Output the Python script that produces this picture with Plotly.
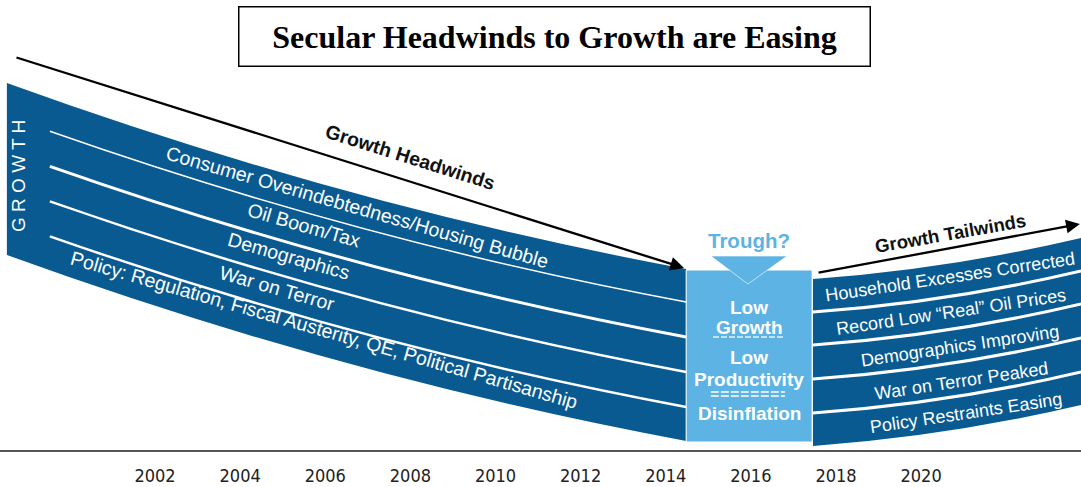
import plotly.graph_objects as go

# ---------------- data ----------------
years = [2002, 2004, 2006, 2008, 2010, 2012, 2014, 2016, 2018, 2020]

headwind_layers = [
    "Consumer Overindebtedness/Housing Bubble",
    "Oil Boom/Tax",
    "Demographics",
    "War on Terror",
    "Policy: Regulation, Fiscal Austerity, QE, Political Partisanship",
]
tailwind_layers = [
    "Household Excesses Corrected",
    "Record Low \u201cReal\u201d Oil Prices",
    "Demographics Improving",
    "War on Terror Peaked",
    "Policy Restraints Easing",
]
trough_lines = ["Low", "Growth", "Low", "Productivity", "Disinflation"]

# growth level of the top edge of each band at its start / middle / end (year)
headwind_x = [1998.52, 2006.50, 2014.48]
headwind_top = [367, 259, 181]
headwind_depth = [0, 33, 68, 103, 138, 172]

tailwind_x = [2017.46, 2020.61, 2023.76]
tailwind_top = [171, 186, 212]
tailwind_depth = [0, 33, 66, 100, 134, 167]

trough_x = [2014.48, 2017.44]
trough_y = [8, 180]

# ---------------- styles ----------------
DARK = "#095a91"
LIGHT = "#5cb3e4"
SANS = "Arial, Liberation Sans, sans-serif"
X0, X1 = 1998.358, 2023.757


def bez(xs, ys, d):
    x0, xm, x2 = xs
    y0, ym, y2 = [y - d for y in ys]
    cx = 2 * xm - (x0 + x2) / 2
    cy = 2 * ym - (y0 + y2) / 2
    return (x0, y0), (cx, cy), (x2, y2)


def split(p0, c, p2, t):
    bx = (1 - t) ** 2 * p0[0] + 2 * t * (1 - t) * c[0] + t * t * p2[0]
    by = (1 - t) ** 2 * p0[1] + 2 * t * (1 - t) * c[1] + t * t * p2[1]
    nc = ((1 - t) * c[0] + t * p2[0], (1 - t) * c[1] + t * p2[1])
    return (bx, by), nc, p2


def band_path(xs, ys, depth):
    a0, ac, a2 = bez(xs, ys, 0)
    b0, bc, b2 = bez(xs, ys, depth)
    return (f"M {a0[0]},{a0[1]} Q {ac[0]},{ac[1]} {a2[0]},{a2[1]} "
            f"L {b2[0]},{b2[1]} Q {bc[0]},{bc[1]} {b0[0]},{b0[1]} Z")


def curve_path(p0, c, p2):
    return f"M {p0[0]},{p0[1]} Q {c[0]},{c[1]} {p2[0]},{p2[1]}"


shapes = []
# headwinds band
shapes.append(dict(type="path", xref="x", yref="y", path=band_path(headwind_x, headwind_top, headwind_depth[-1]),
                   fillcolor=DARK, line=dict(width=0), layer="above"))
sep_w = [1.5, 3, 2.5, 2.5]
t0 = (1999.53 - headwind_x[0]) / (headwind_x[2] - headwind_x[0])
for i, d in enumerate(headwind_depth[1:-1]):
    p0, c, p2 = bez(headwind_x, headwind_top, d)
    p0, c, p2 = split(p0, c, p2, t0)
    shapes.append(dict(type="path", xref="x", yref="y", path=curve_path(p0, c, p2),
                       line=dict(color="white", width=sep_w[i]), layer="above"))
# tailwinds band
shapes.append(dict(type="path", xref="x", yref="y", path=band_path(tailwind_x, tailwind_top, tailwind_depth[-1]),
                   fillcolor=DARK, line=dict(width=0), layer="above"))
for d in tailwind_depth[1:-1]:
    p0, c, p2 = bez(tailwind_x, tailwind_top, d)
    shapes.append(dict(type="path", xref="x", yref="y", path=curve_path(p0, c, p2),
                       line=dict(color="white", width=3), layer="above"))
# trough box
shapes.append(dict(type="rect", xref="x", yref="y", x0=trough_x[0], x1=trough_x[1], y0=trough_y[0], y1=trough_y[1],
                   fillcolor=LIGHT, line=dict(color="white", width=1), layer="above"))
shapes.append(dict(type="path", xref="x", yref="y",
                   path="M 2015.06,194 L 2016.85,194 L 2015.93,166 Z",
                   fillcolor=LIGHT, line=dict(color="rgba(255,255,255,0.6)", width=1), layer="above"))
# dashed separators in trough box
shapes.append(dict(type="line", xref="x", yref="y", x0=2015.11, x1=2016.80, y0=113, y1=113,
                   line=dict(color="rgba(255,255,255,0.85)", width=1.5, dash="6px,2px"), layer="above"))
for yy in (58, 54):
    shapes.append(dict(type="line", xref="x", yref="y", x0=2015.06, x1=2016.80, y0=yy, y1=yy,
                       line=dict(color="white", width=1.3, dash="8px,2px"), layer="above"))

ann = []
# title
ann.append(dict(xref="paper", yref="paper", x=554 / 1081, y=(450 - 37) / 450, showarrow=False,
                xanchor="center", yanchor="middle",
                text="<b>Secular Headwinds to Growth are Easing</b>",
                font=dict(family="Liberation Serif, Times New Roman, serif", size=32, color="black"),
                bordercolor="black", borderwidth=1.5, borderpad=2, width=626, height=54, bgcolor="white"))
# arrows
ann.append(dict(xref="x", yref="y", axref="x", ayref="y", x=2014.43, y=182, ax=1998.71, ay=393,
                text="", showarrow=True, arrowhead=2, arrowsize=1.2, arrowwidth=2.3, arrowcolor="black", standoff=0))
ann.append(dict(xref="x", yref="y", axref="x", ayref="y", x=2023.73, y=226, ax=2017.555, ay=177,
                text="", showarrow=True, arrowhead=2, arrowsize=1.2, arrowwidth=2.3, arrowcolor="black", standoff=0))
ann.append(dict(xref="x", yref="y", x=2008.0, y=293, text="<b>Growth Headwinds</b>", showarrow=False,
                xanchor="center", yanchor="middle",
                textangle=17.5, font=dict(family=SANS, size=19.5, color="#111")))
ann.append(dict(xref="x", yref="y", x=2020.68, y=217, text="<b>Growth Tailwinds</b>", showarrow=False,
                xanchor="center", yanchor="middle",
                textangle=-10, font=dict(family=SANS, size=18.5, color="#111")))
# GROWTH
ann.append(dict(xref="x", yref="y", x=1998.78, y=274, text="G R O W T H", showarrow=False,
                xanchor="center", yanchor="middle",
                textangle=-90, font=dict(family=SANS, size=19, color="white")))
# headwind labels
hw_pos = [(2006.75, 243), (2005.50, 225), (2005.15, 194), (2004.87, 162), (2005.99, 120)]
for lab, (x, y) in zip(headwind_layers, hw_pos):
    ann.append(dict(xref="x", yref="y", x=x, y=y, text=lab, showarrow=False, textangle=16,
                    xanchor="center", yanchor="middle",
                    font=dict(family=SANS, size=19.5, color="white")))
# tailwind labels
tw_pos = [(2020.68, 173), (2020.70, 138), (2020.91, 104), (2020.94, 69), (2021.06, 37)]
for lab, (x, y) in zip(tailwind_layers, tw_pos):
    ann.append(dict(xref="x", yref="y", x=x, y=y, text=lab, showarrow=False, textangle=-8.5,
                    xanchor="center", yanchor="middle",
                    font=dict(family=SANS, size=18, color="white")))
# trough
ann.append(dict(xref="x", yref="y", x=2015.96, y=210, text="<b>Trough?</b>", showarrow=False,
                xanchor="center", yanchor="middle",
                font=dict(family=SANS, size=20.5, color=LIGHT)))
tr_y = [143, 123, 93, 71, 37]
for lab, y in zip(trough_lines, tr_y):
    ann.append(dict(xref="x", yref="y", x=2015.96, y=y, text=f"<b>{lab}</b>", showarrow=False,
                    xanchor="center", yanchor="middle",
                    font=dict(family=SANS, size=19, color="white")))

fig = go.Figure()
fig.add_trace(go.Scatter(x=[X0, X1], y=[0, 0], mode="markers", marker=dict(opacity=0), hoverinfo="skip",
                         showlegend=False))
fig.update_layout(
    width=1081, height=487, margin=dict(l=0, r=0, t=0, b=37),
    paper_bgcolor="white", plot_bgcolor="white",
    shapes=shapes, annotations=ann, showlegend=False,
    xaxis=dict(range=[X0, X1], tickvals=years, ticktext=[str(y) for y in years],
               showgrid=False, zeroline=False, showline=True, linecolor="#555", linewidth=2,
               ticks="outside", ticklen=8, tickcolor="rgba(0,0,0,0)",
               tickfont=dict(family="Liberation Sans Narrow, Arial Narrow, DejaVu Sans Condensed", size=18,
                             color="#222")),
    yaxis=dict(range=[0, 450], visible=False, showgrid=False, zeroline=False),
)
fig.write_html("out.html", config={"displayModeBar": False, "staticPlot": True},
               post_script="document.body.style.margin='0';document.body.style.overflow='hidden';")
